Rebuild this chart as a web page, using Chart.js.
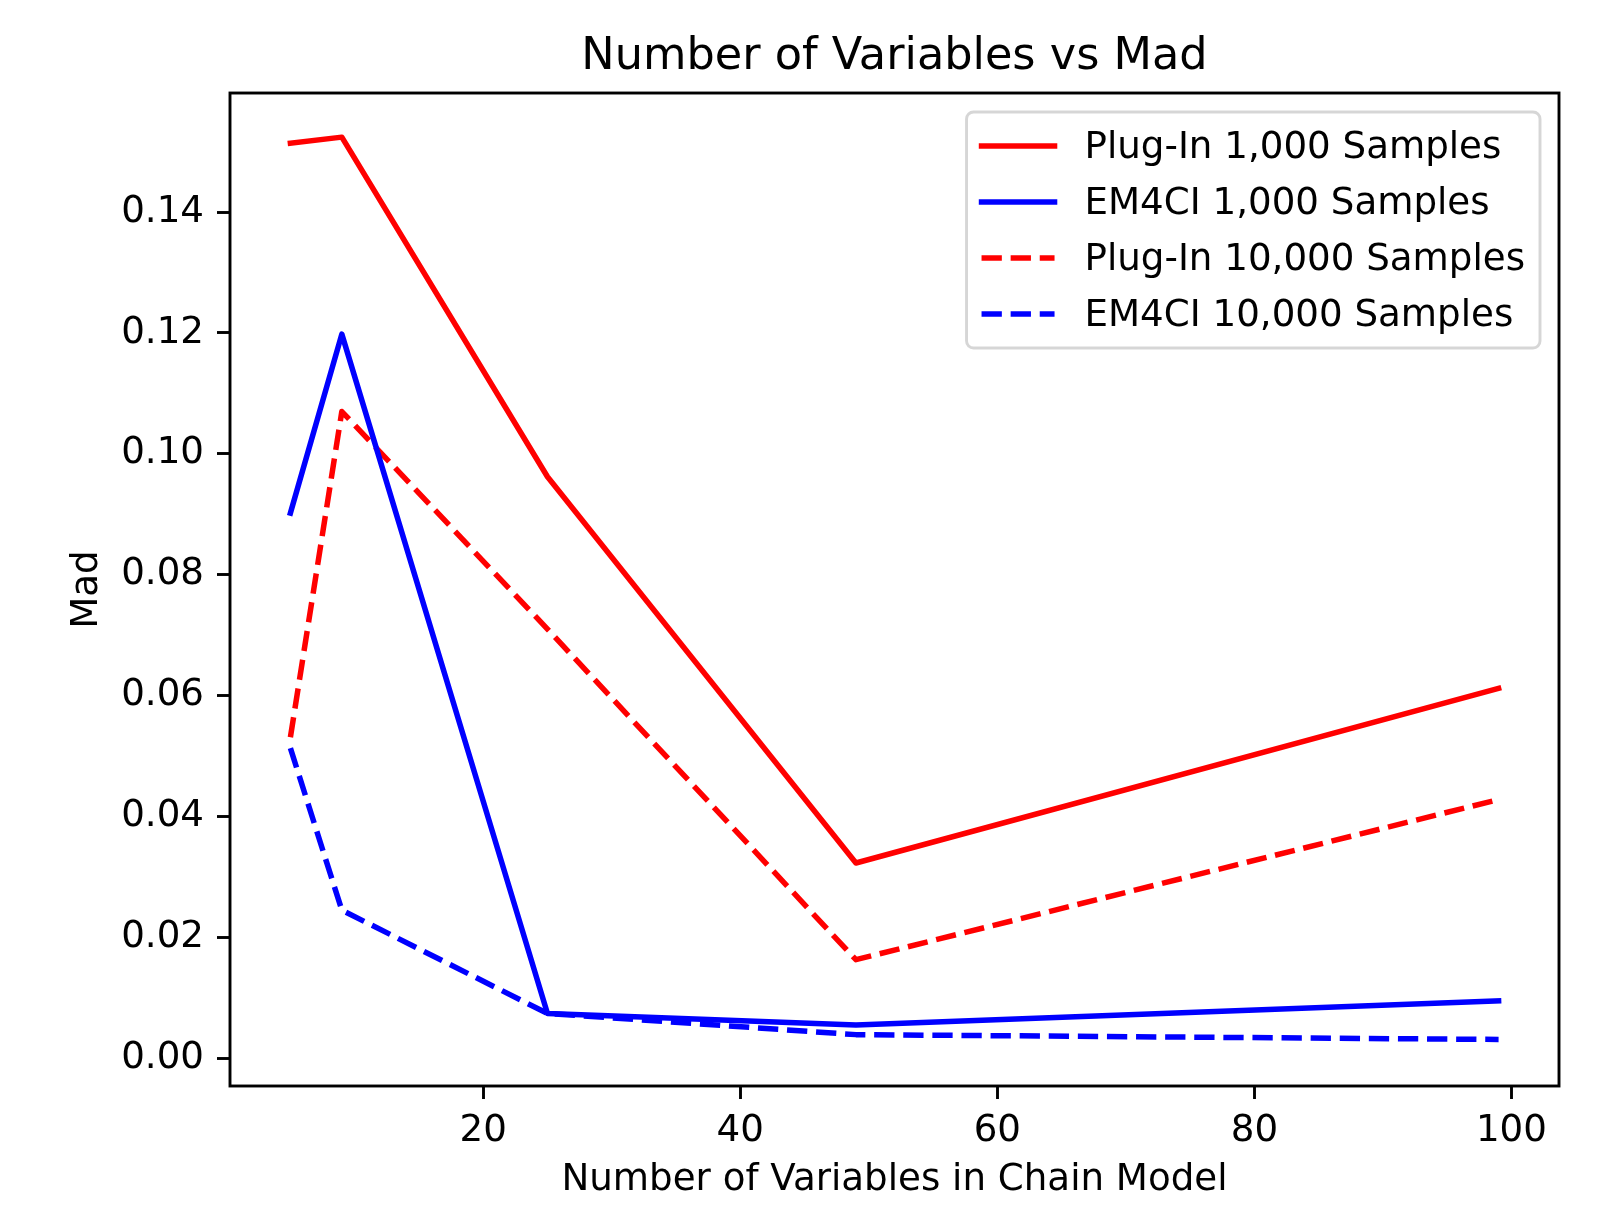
<!DOCTYPE html>
<html>
<head>
<meta charset="utf-8">
<title>Number of Variables vs Mad</title>
<script src="https://cdn.jsdelivr.net/npm/chart.js@4.4.1/dist/chart.umd.min.js"></script>
<style>
  html, body { margin: 0; padding: 0; background: #fff; }
  canvas { display: block; }
</style>
</head>
<body>
<canvas id="grafico" width="1623" height="1206"></canvas>
<script>
// number of variables in the chain model
var numVariaveis = [5, 9, 25, 49, 99];

// mad values
var plugIn1000 = [0.1514, 0.1524, 0.0962, 0.0323, 0.0612];
var em4ci1000 = [0.0902, 0.1198, 0.0074, 0.0055, 0.0095];
var plugIn10000 = [0.0531, 0.1070, 0.0710, 0.0163, 0.0428];
var em4ci10000 = [0.0513, 0.0245, 0.0074, 0.0039, 0.0031];

var xTicks = [20, 40, 60, 80, 100];
var yTicks = [0, 0.02, 0.04, 0.06, 0.08, 0.10, 0.12, 0.14];

var FONTE = 'DejaVu Sans';
var TAM = 37.2;
var LW = 5.5;
var TRACO = [20.3, 8.8];

function pontos(vals) {
	return numVariaveis.map(function(x, i) {
		return { x : x, y : vals[i] };
	});
}

function serie(label, vals, cor, tracejado) {
	return {
		label : label,
		data : pontos(vals),
		borderColor : cor,
		backgroundColor : cor,
		borderWidth : LW,
		borderDash : tracejado ? TRACO : [],
		borderCapStyle : tracejado ? 'butt' : 'square',
		borderJoinStyle : 'round',
		pointRadius : 0,
		pointHoverRadius : 0,
		tension : 0,
		fill : false
	};
}

// box around the plot (all four spines)
var moldura = {
	id : 'moldura',
	afterDatasetsDraw : function(chart) {
		var ctx = chart.ctx, a = chart.chartArea;
		ctx.save();
		ctx.strokeStyle = '#000';
		ctx.lineWidth = 2.9;
		ctx.setLineDash([]);
		ctx.strokeRect(a.left, a.top, a.right - a.left, a.bottom - a.top);
		ctx.restore();
	}
};

// legend inside the upper right corner
var legenda = {
	id : 'legenda',
	afterDraw : function(chart) {
		var ctx = chart.ctx, a = chart.chartArea;
		var sets = chart.data.datasets;
		ctx.save();
		ctx.font = TAM + 'px "' + FONTE + '"';
		var larg = 0;
		sets.forEach(function(ds) {
			larg = Math.max(larg, ctx.measureText(ds.label).width);
		});
		var w = 12 + 79 + 27 + larg + 15;
		var h = 236;
		var x0 = a.right - 19 - w, y0 = a.top + 19;

		ctx.beginPath();
		ctx.roundRect(x0, y0, w, h, 7);
		ctx.fillStyle = 'rgba(255,255,255,0.8)';
		ctx.fill();
		ctx.strokeStyle = 'rgba(204,204,204,0.8)';
		ctx.lineWidth = 2.9;
		ctx.stroke();

		sets.forEach(function(ds, i) {
			var yy = y0 + 34 + i * 56;
			ctx.beginPath();
			ctx.setLineDash(ds.borderDash);
			ctx.lineCap = ds.borderCapStyle;
			ctx.strokeStyle = ds.borderColor;
			ctx.lineWidth = ds.borderWidth;
			ctx.moveTo(x0 + 15, yy);
			ctx.lineTo(x0 + 88, yy);
			ctx.stroke();
			ctx.setLineDash([]);
			ctx.fillStyle = '#000';
			ctx.textBaseline = 'middle';
			ctx.textAlign = 'left';
			ctx.fillText(ds.label, x0 + 12 + 79 + 27, yy + 2);
		});
		ctx.restore();
	}
};

Chart.defaults.font.family = FONTE;
Chart.defaults.color = '#000';

var ctx = document.getElementById('grafico');

let chart = new Chart(ctx, {
	type : 'line',
	data : {
		datasets : [
			serie('Plug-In 1,000 Samples', plugIn1000, '#ff0000', false),
			serie('EM4CI 1,000 Samples', em4ci1000, '#0000ff', false),
			serie('Plug-In 10,000 Samples', plugIn10000, '#ff0000', true),
			serie('EM4CI 10,000 Samples', em4ci10000, '#0000ff', true)
		]
	},
	options : {
		responsive : false,
		animation : false,
		devicePixelRatio : 1,
		layout : {
			padding : { left : 0, right : 64, top : 0, bottom : 0 }
		},
		plugins : {
			legend : { display : false },
			tooltip : { enabled : false },
			title : {
				display : true,
				text : 'Number of Variables vs Mad',
				fullSize : false,
				color : '#000',
				font : { size : 44.6, weight : 'normal', family : FONTE },
				padding : { top : 31, bottom : 8.5 }
			}
		},
		scales : {
			x : {
				type : 'linear',
				min : 0.3,
				max : 103.7,
				afterBuildTicks : function(scale) {
					scale.ticks = xTicks.map(function(v) { return { value : v }; });
				},
				afterFit : function(scale) {
					scale.height = 120;
				},
				border : { display : false },
				grid : {
					drawOnChartArea : false,
					drawTicks : true,
					tickLength : 13,
					tickWidth : 2.9,
					tickColor : '#000'
				},
				ticks : {
					autoSkip : false,
					maxRotation : 0,
					padding : 10,
					color : '#000',
					font : { size : TAM, family : FONTE },
					callback : function(v) { return String(v); }
				},
				title : {
					display : true,
					text : 'Number of Variables in Chain Model',
					color : '#000',
					font : { size : TAM, family : FONTE },
					padding : { top : 0, bottom : 3 }
				}
			},
			y : {
				type : 'linear',
				min : -0.0046,
				max : 0.1597,
				afterBuildTicks : function(scale) {
					scale.ticks = yTicks.map(function(v) { return { value : v }; });
				},
				afterFit : function(scale) {
					scale.width = 230;
				},
				border : { display : false },
				grid : {
					drawOnChartArea : false,
					drawTicks : true,
					tickLength : 13,
					tickWidth : 2.9,
					tickColor : '#000'
				},
				ticks : {
					autoSkip : false,
					padding : 13,
					color : '#000',
					font : { size : TAM, family : FONTE },
					callback : function(v) { return Number(v).toFixed(2); }
				},
				title : {
					display : true,
					text : 'Mad',
					color : '#000',
					font : { size : TAM, family : FONTE },
					padding : { top : 65, bottom : 0 }
				}
			}
		}
	},
	plugins : [ moldura, legenda ]
});
</script>
</body>
</html>
